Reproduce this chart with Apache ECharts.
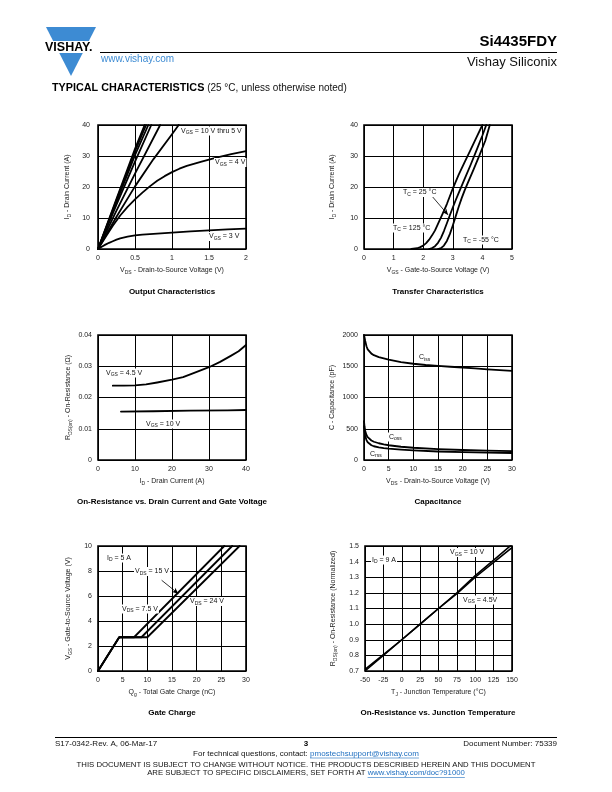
<!DOCTYPE html>
<html><head><meta charset="utf-8">
<script src="https://cdn.jsdelivr.net/npm/echarts@6/dist/echarts.min.js"></script>
<style>html,body{margin:0;padding:0;background:#fff}#c{width:612px;height:792px}</style>
</head><body><div id="c"></div>
<script>
// ---------- DATA ----------
// Output characteristics: [VDS (V), ID (A)]
const out10V = [[0,0],[0.25,16.2],[0.5,32.3],[0.63,40]];
const out9V  = [[0,0],[0.25,15.8],[0.5,31.5],[0.65,40]];
const out8V  = [[0,0],[0.25,15.2],[0.5,30.3],[0.68,40]];
const out7V  = [[0,0],[0.25,14.3],[0.5,28.2],[0.72,40]];
const out6V  = [[0,0],[0.25,12.4],[0.5,24.3],[0.84,40]];
const out5V  = [[0,0],[0.25,10.4],[0.5,20.2],[0.75,29],[1.0,37],[1.09,40]];
const out4V  = [[0,0],[0.1,3.8],[0.2,7.5],[0.3,10.8],[0.4,13.6],[0.5,16],[0.6,18.2],[0.7,20.2],[0.8,22],[0.9,23.5],[1.0,24.8],[1.1,25.9],[1.2,26.8],[1.4,28.2],[1.6,29.5],[1.8,30.6],[2.0,31.6]];
const out3V  = [[0,0],[0.05,0.75],[0.1,1.4],[0.15,2.0],[0.2,2.5],[0.25,3.0],[0.3,3.4],[0.4,4.0],[0.5,4.4],[0.6,4.65],[0.75,4.9],[1.0,5.3],[1.25,5.7],[1.5,6.0],[1.75,6.3],[2.0,6.6]];
// Transfer characteristics: [VGS (V), ID (A)]
const tr125 = [[1.6,0],[1.8,0.25],[1.9,0.6],[2.0,1.1],[2.1,1.9],[2.2,3],[2.3,4.4],[2.4,6],[2.5,8.1],[2.6,10.2],[2.7,12.3],[2.8,14.5],[2.9,17],[3.0,19.5],[3.2,24],[3.4,28],[3.6,32],[3.8,36],[4.0,40]];
const tr25  = [[2.2,0],[2.3,0.3],[2.4,0.9],[2.5,2],[2.6,3.6],[2.7,5.8],[2.8,8.3],[2.9,10.9],[3.0,13.4],[3.1,15.8],[3.2,18.1],[3.4,22.6],[3.6,27.1],[3.8,31.8],[4.0,36.6],[4.13,40]];
const trM55 = [[2.5,0],[2.6,0.3],[2.7,1.1],[2.8,2.6],[2.9,4.8],[3.0,7.6],[3.1,10.6],[3.2,13.6],[3.3,16.4],[3.4,18.9],[3.5,21.2],[3.7,25.6],[3.9,30.2],[4.1,35],[4.25,40]];
// On-resistance vs drain current: [ID (A), RDS(on) (Ohm)]
const ron45 = [[4,0.0238],[7,0.0238],[10,0.0239],[13,0.0242],[16,0.0248],[20,0.0257],[23,0.0265],[26,0.0279],[30,0.0297],[33,0.0314],[36,0.0334],[38,0.0348],[40,0.0368]];
const ron10 = [[6.2,0.0155],[15,0.0156],[25,0.0158],[35,0.0159],[40,0.016]];
// Capacitance: [VDS (V), C (pF)]
const cIss = [[0,2000],[0.1,1965],[0.25,1905],[0.5,1820],[0.75,1770],[1,1740],[1.5,1702],[2,1677],[3,1645],[4,1625],[5,1605],[7.5,1565],[10,1540],[12.5,1520],[15,1505],[17.5,1492],[20,1480],[22.5,1465],[25,1450],[27.5,1437],[30,1425]];
const cOss = [[0,620],[0.1,540],[0.25,465],[0.5,400],[0.75,365],[1,345],[1.5,312],[2,292],[3,268],[4,250],[5,236],[7.5,212],[10,196],[15,174],[20,160],[25,150],[30,142]];
const cRss = [[0,540],[0.1,460],[0.25,385],[0.5,318],[0.75,283],[1,262],[1.5,236],[2,220],[3,202],[4,190],[5,181],[7.5,165],[10,153],[15,136],[20,125],[25,118],[30,112]];
// Gate charge: [Qg (nC), VGS (V)]
const gc75 = [[0,0],[4.3,2.7],[7.3,2.7],[25.6,10]];
const gc15 = [[0,0],[4.3,2.7],[8.8,2.7],[27.2,10]];
const gc24 = [[0,0],[4.3,2.7],[10,2.7],[28.7,10]];
// On-resistance vs junction temperature: [TJ (°C), normalized RDS(on)]
const rt10 = [[-50,0.70],[-25,0.80],[0,0.90],[25,1.0],[50,1.10],[75,1.20],[100,1.31],[125,1.41],[150,1.51]];
const rt45 = [[-50,0.71],[-25,0.805],[0,0.90],[25,1.0],[50,1.10],[75,1.195],[100,1.30],[125,1.395],[150,1.49]];
// Axis ranges / ticks
const axX = [[0,2,0.5],[0,5,1],[0,40,10],[0,30,5],[0,30,5],[-50,150,25]];
const axY = [[0,40,10],[0,40,10],[0,0.04,0.01],[0,2000,500],[0,10,2],[0.7,1.5,0.1]];

// ---------- LAYOUT ----------
const FONT = 'Liberation Sans, Arial, Helvetica, sans-serif';
const grids = [
  {left:98, top:125, width:148, height:124},
  {left:364, top:125, width:148, height:124},
  {left:98, top:335, width:148, height:125},
  {left:364, top:335, width:148, height:125},
  {left:98, top:546, width:148, height:125},
  {left:365, top:546, width:147, height:125}
];
const xNames = ['V{s|DS} - Drain-to-Source Voltage (V)','V{s|GS} - Gate-to-Source Voltage (V)','I{s|D} - Drain Current (A)','V{s|DS} - Drain-to-Source Voltage (V)','Q{s|g} - Total Gate Charge (nC)','T{s|J} - Junction Temperature (°C)'];
const yNames = ['I{s|D} - Drain Current (A)','I{s|D} - Drain Current (A)','R{s|DS(on)} - On-Resistance (Ω)','C - Capacitance (pF)','V{s|GS} - Gate-to-Source Voltage (V)','R{s|DS(on)} - On-Resistance (Normalized)'];
const yFmt = [null,null,v=>v===0?'0':v.toFixed(2),v=>String(v),null,v=>v.toFixed(1)];
const yGap = [26,27,25,27,25,27];
const subRich = {s:{fontSize:5, fontFamily:FONT, color:'#222', verticalAlign:'bottom', lineHeight:9, padding:[0,0,0,0]}};

const xAxis = grids.map((g,i)=>({
  type:'value', gridIndex:i, min:axX[i][0], max:axX[i][1], interval:axX[i][2],
  axisLine:{show:false}, axisTick:{show:false},
  splitLine:{show:true, lineStyle:{color:'#000', width:1}},
  axisLabel:{fontSize:7, fontFamily:FONT, color:'#222', margin:6},
  name:xNames[i], nameLocation:'middle', nameGap:17,
  nameTextStyle:{fontSize:7, fontFamily:FONT, color:'#222', lineHeight:9, rich:subRich}
}));
const yAxis = grids.map((g,i)=>({
  type:'value', gridIndex:i, min:axY[i][0], max:axY[i][1], interval:axY[i][2],
  axisLine:{show:false}, axisTick:{show:false},
  splitLine:{show:true, lineStyle:{color:'#000', width:1}},
  axisLabel:{fontSize:7, fontFamily:FONT, color:'#222', margin:i===0?8:6, formatter:yFmt[i]||undefined},
  name:yNames[i], nameLocation:'middle', nameRotate:90, nameGap:yGap[i],
  nameTextStyle:{fontSize:7, fontFamily:FONT, color:'#222', lineHeight:9, rich:subRich}
}));

function curve(i, data, extra){
  return Object.assign({type:'line', xAxisIndex:i, yAxisIndex:i, data:data, symbol:'none', showSymbol:false,
    smooth:false, silent:true, animation:false, z:3,
    lineStyle:{color:'#000', width:1.8, join:'round', cap:'round'}}, extra||{});
}
function arrowLine(from, to){
  return {silent:true, symbol:['none','arrow'], symbolSize:[4,6], animation:false,
    lineStyle:{color:'#000', width:0.8, type:'solid'}, label:{show:false},
    data:[[{coord:from},{coord:to}]]};
}

const series = [
  curve(0,out10V), curve(0,out9V), curve(0,out8V), curve(0,out7V), curve(0,out6V),
  curve(0,out5V), curve(0,out4V), curve(0,out3V),
  curve(1,tr125), curve(1,tr25,{markLine:arrowLine([2.31,16.9],[2.84,11])}), curve(1,trM55),
  curve(2,ron45), curve(2,ron10),
  curve(3,cIss), curve(3,cOss), curve(3,cRss),
  curve(4,gc75), curve(4,gc15,{markLine:arrowLine([12.9,7.26],[16.28,6.19])}), curve(4,gc24),
  curve(5,rt10,{lineStyle:{color:'#000',width:1.6}}), curve(5,rt45,{lineStyle:{color:'#000',width:1.6}})
];

// ---------- TEXT / DECORATION ----------
const lblRich = {s:{fontSize:5, fontFamily:FONT, fill:'#111', verticalAlign:'bottom', lineHeight:9}};
function lab(x,y,text){
  return {type:'text', x:x, y:y, z:50, silent:true, style:{text:text, fontSize:7, fontFamily:FONT, fill:'#111',
    lineHeight:9, verticalAlign:'middle', align:'left', backgroundColor:'#fff', padding:[0,1], rich:lblRich}};
}
function txt(x,y,text,font,fill,align){
  return {type:'text', x:x, y:y, silent:true, style:{text:text, font:font, fill:fill||'#111', align:align||'left', verticalAlign:'middle'}};
}
const cv = document.createElement('canvas').getContext('2d');
function tw(s,font){cv.font=font;return cv.measureText(s).width;}

const graphics = [];
// logo
const hw = y => 25*(76-y)/49;
graphics.push({type:'polygon', silent:true, shape:{points:[[71-hw(27),27],[71+hw(27),27],[71+hw(41),41],[71-hw(41),41]]}, style:{fill:'#3d8bd3'}});
graphics.push({type:'polygon', silent:true, shape:{points:[[71-hw(53),53],[71+hw(53),53],[71,76]]}, style:{fill:'#3d8bd3'}});
graphics.push(txt(45,47.5,'VISHAY.','bold 12.5px '+FONT,'#000'));
// header
graphics.push({type:'line', silent:true, shape:{x1:100,y1:52.5,x2:557,y2:52.5}, style:{stroke:'#000', lineWidth:1.2}});
graphics.push(txt(557,42,'Si4435FDY','bold 15px '+FONT,'#000','right'));
graphics.push(txt(557,62,'Vishay Siliconix','13px '+FONT,'#111','right'));
graphics.push(txt(101,59,'www.vishay.com','10px '+FONT,'#3d8bd3'));
graphics.push({type:'text', x:52, y:88, silent:true, style:{text:'{b|TYPICAL CHARACTERISTICS} (25 °C, unless otherwise noted)',
  fontSize:10, fontFamily:FONT, fill:'#111', verticalAlign:'middle', rich:{b:{fontSize:10.8, fontWeight:'bold', fontFamily:FONT, fill:'#000'}}}});
// chart titles
const TF = 'bold 8px '+FONT;
graphics.push(txt(172,292,'Output Characteristics',TF,'#000','center'));
graphics.push(txt(438,292,'Transfer Characteristics',TF,'#000','center'));
graphics.push(txt(172,502,'On-Resistance vs. Drain Current and Gate Voltage',TF,'#000','center'));
graphics.push(txt(438,502,'Capacitance',TF,'#000','center'));
graphics.push(txt(172,713,'Gate Charge',TF,'#000','center'));
graphics.push(txt(438,713,'On-Resistance vs. Junction Temperature',TF,'#000','center'));
// chart annotations
graphics.push(lab(180,131,'V{s|GS} = 10 V thru 5 V'));
graphics.push(lab(214,162.5,'V{s|GS} = 4 V'));
graphics.push(lab(208,236.5,'V{s|GS} = 3 V'));
graphics.push(lab(402,192.5,'T{s|C} = 25 °C'));
graphics.push(lab(392,228,'T{s|C} = 125 °C'));
graphics.push(lab(462,240,'T{s|C} = -55 °C'));
graphics.push(lab(105,373,'V{s|GS} = 4.5 V'));
graphics.push(lab(145,424,'V{s|GS} = 10 V'));
graphics.push(lab(418,357.5,'C{s|iss}'));
graphics.push(lab(388,437,'C{s|oss}'));
graphics.push(lab(369,454,'C{s|rss}'));
graphics.push(lab(106,558,'I{s|D} = 5 A'));
graphics.push(lab(134,571.5,'V{s|DS} = 15 V'));
graphics.push(lab(121,609,'V{s|DS} = 7.5 V'));
graphics.push(lab(189,601.5,'V{s|DS} = 24 V'));
graphics.push(lab(371,560,'I{s|D} = 9 A'));
graphics.push(lab(449,552.5,'V{s|GS} = 10 V'));
graphics.push(lab(462,600,'V{s|GS} = 4.5V'));
// footer
const FF = '8px '+FONT;
graphics.push({type:'line', silent:true, shape:{x1:55,y1:737.5,x2:557,y2:737.5}, style:{stroke:'#000', lineWidth:1.2}});
graphics.push(txt(55,743.5,'S17-0342-Rev. A, 06-Mar-17',FF,'#111'));
graphics.push(txt(306,744,'3','bold 8px '+FONT,'#000','center'));
graphics.push(txt(557,743.5,'Document Number: 75339',FF,'#111','right'));
const l1a = 'For technical questions, contact: ', l1b = 'pmostechsupport@vishay.com';
const w1a = tw(l1a,FF), w1b = tw(l1b,FF), s1 = 306-(w1a+w1b)/2;
graphics.push(txt(s1,753.5,l1a,FF,'#111'));
graphics.push(txt(s1+w1a,753.5,l1b,FF,'#1f6fc0'));
graphics.push({type:'line', silent:true, shape:{x1:s1+w1a,y1:758,x2:s1+w1a+w1b,y2:758}, style:{stroke:'#1f6fc0', lineWidth:0.6}});
const DF = '7.75px '+FONT;
graphics.push(txt(306,765,'THIS DOCUMENT IS SUBJECT TO CHANGE WITHOUT NOTICE. THE PRODUCTS DESCRIBED HEREIN AND THIS DOCUMENT',DF,'#111','center'));
const l3a = 'ARE SUBJECT TO SPECIFIC DISCLAIMERS, SET FORTH AT ', l3b = 'www.vishay.com/doc?91000';
const w3a = tw(l3a,DF), w3b = tw(l3b,DF), s3 = 306-(w3a+w3b)/2;
graphics.push(txt(s3,773,l3a,DF,'#111'));
graphics.push(txt(s3+w3a,773,l3b,DF,'#1f6fc0'));
graphics.push({type:'line', silent:true, shape:{x1:s3+w3a,y1:777.5,x2:s3+w3a+w3b,y2:777.5}, style:{stroke:'#1f6fc0', lineWidth:0.6}});

const chart = echarts.init(document.getElementById('c'), null, {renderer:'canvas'});
chart.setOption({
  animation:false,
  backgroundColor:'#fff',
  grid: grids.map(g=>Object.assign({show:true, borderColor:'#000', borderWidth:1.6, backgroundColor:'transparent', containLabel:false}, g)),
  xAxis: xAxis, yAxis: yAxis, series: series, graphic: graphics
});
</script></body></html>
